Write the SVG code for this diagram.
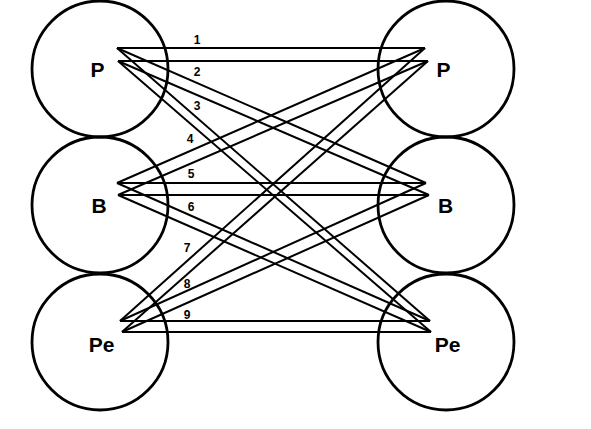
<svg xmlns="http://www.w3.org/2000/svg" width="591" height="429" viewBox="0 0 591 429">
<style>
.node circle{fill:none;stroke:#000;stroke-width:2.8}
.node text{font-family:"Liberation Sans",Arial,sans-serif;font-weight:bold;font-size:21px;text-anchor:middle;fill:#000}
#connectors line{stroke:#000;stroke-width:2}
#connectors text{font-family:"Liberation Sans",Arial,sans-serif;font-weight:bold;font-size:12px;text-anchor:middle;fill:#000}
</style>
<rect width="591" height="429" fill="#fff"/>
<g id="connectors">
<!-- 1 P-P -->
<line x1="117" y1="48" x2="425" y2="48"/>
<line x1="118" y1="61" x2="428" y2="61"/>
<!-- 2 P-B -->
<line x1="117" y1="48" x2="426" y2="183"/>
<line x1="118" y1="61" x2="429" y2="195"/>
<!-- 3 P-Pe -->
<line x1="117" y1="48" x2="430" y2="321"/>
<line x1="118" y1="61" x2="431" y2="332"/>
<!-- 4 B-P -->
<line x1="117" y1="183" x2="425" y2="48"/>
<line x1="118" y1="195" x2="428" y2="61"/>
<!-- 5 B-B -->
<line x1="117" y1="183" x2="426" y2="183"/>
<line x1="118" y1="195" x2="429" y2="195"/>
<!-- 6 B-Pe -->
<line x1="117" y1="183" x2="430" y2="321"/>
<line x1="118" y1="195" x2="431" y2="332"/>
<!-- 7 Pe-P -->
<line x1="120" y1="321" x2="425" y2="48"/>
<line x1="122" y1="332" x2="428" y2="61"/>
<!-- 8 Pe-B -->
<line x1="120" y1="321" x2="426" y2="183"/>
<line x1="122" y1="332" x2="429" y2="195"/>
<!-- 9 Pe-Pe -->
<line x1="120" y1="321" x2="430" y2="321"/>
<line x1="122" y1="332" x2="431" y2="332"/>
<text x="197" y="44">1</text>
<text x="197" y="76">2</text>
<text x="197" y="110">3</text>
<text x="190" y="143">4</text>
<text x="191" y="178">5</text>
<text x="191" y="211">6</text>
<text x="187" y="252">7</text>
<text x="187" y="288">8</text>
<text x="187" y="319">9</text>
</g>
<g id="left-P" class="node"><circle cx="100" cy="69" r="68"/><text x="97.5" y="77">P</text></g>
<g id="left-B" class="node"><circle cx="100" cy="205" r="68"/><text x="99" y="213">B</text></g>
<g id="left-Pe" class="node"><circle cx="100" cy="342" r="68"/><text x="101.5" y="352">Pe</text></g>
<g id="right-P" class="node"><circle cx="446" cy="69" r="68"/><text x="443.5" y="77">P</text></g>
<g id="right-B" class="node"><circle cx="446" cy="205" r="68"/><text x="445.5" y="213">B</text></g>
<g id="right-Pe" class="node"><circle cx="446" cy="342" r="68"/><text x="447.5" y="352">Pe</text></g>
</svg>
